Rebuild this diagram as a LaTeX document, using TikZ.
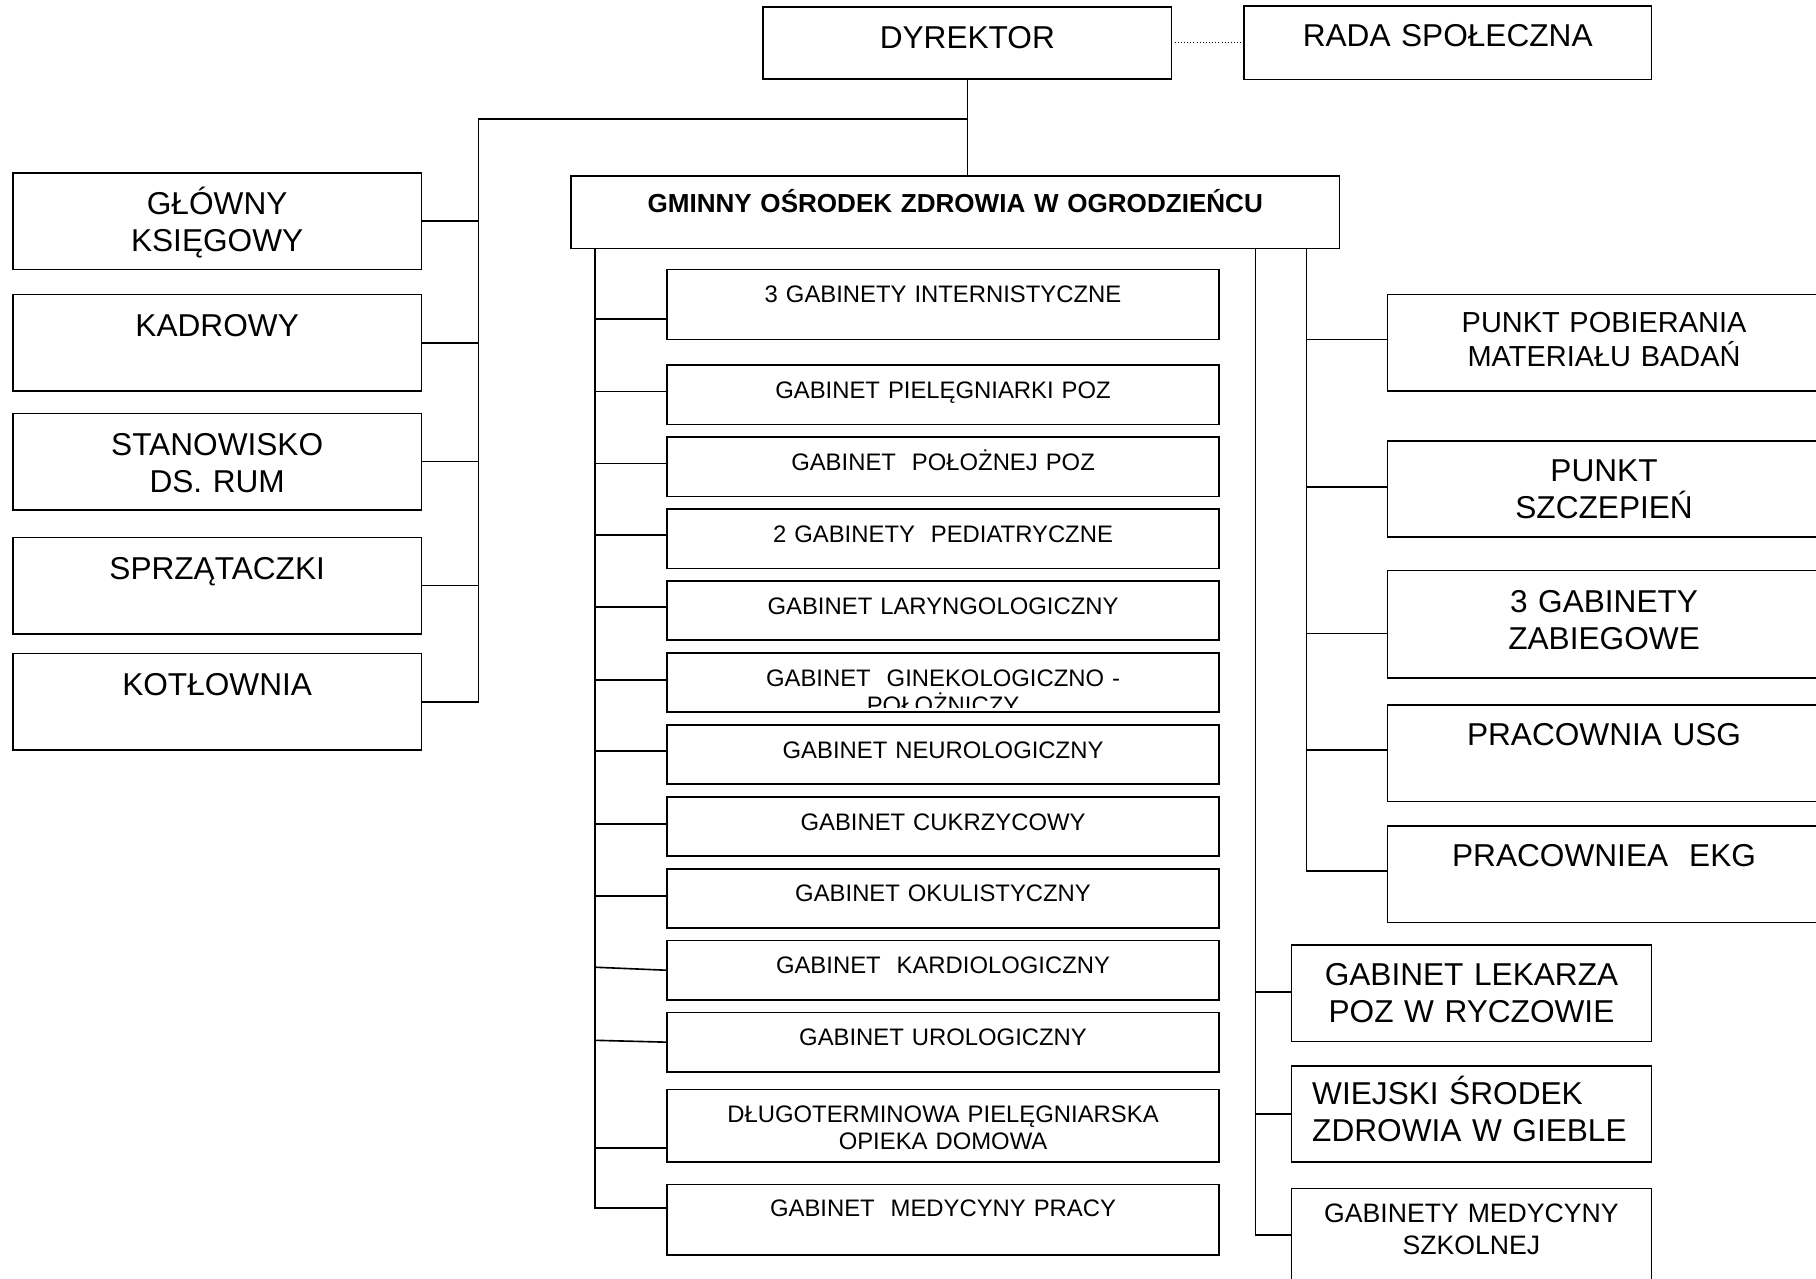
\documentclass[tikz,border=0pt]{standalone}
\usepackage{fontspec}
\setmainfont{Liberation Sans}
\usetikzlibrary{positioning}

\begin{document}
\begin{tikzpicture}
  [
    x=1pt, y=-1pt,
    line width=1.4pt,
    unit node/.style={draw, inner sep=0pt, outer sep=0pt, anchor=north west, align=center, font=\fontsize{27.3}{32}\selectfont},
    staff node/.style={unit node, text width=353pt, text height=36pt, text depth=47.2pt},
    cabinet node/.style={unit node, text width=476.5pt, text height=28.7pt, text depth=22.4pt, font=\fontsize{20.6}{23.5}\selectfont},
    point node/.style={unit node, text width=374pt, text height=35pt, text depth=48.2pt},
    branch node/.style={unit node, text width=311pt, text height=35pt, text depth=48.6pt}
    ]

  \path[use as bounding box, fill=white] (0,0) rectangle (1568,1104.3);

  \node[unit node, text width=352.5pt, text height=35.8pt, text depth=26.2pt] (dyrektor) at (659,6) {DYREKTOR};
  \node[unit node, text width=352pt, text height=34.8pt, text depth=28.6pt, right=62.5pt of dyrektor] (rada) {RADA SPOŁECZNA};
  \node[unit node, text width=663.5pt, text height=31.4pt, text depth=31pt, font=\fontsize{22.5}{26}\selectfont\bfseries] (gminny) at (493,152.2) {GMINNY OŚRODEK ZDROWIA W OGRODZIEŃCU};

  \node[staff node] (glowny) at (11,149.4) {GŁÓWNY\\KSIĘGOWY};
  \node[staff node, below=21.8pt of glowny] (kadrowy) {KADROWY};
  \node[staff node, below=19.4pt of kadrowy] (stanowisko) {STANOWISKO\\DS. RUM};
  \node[staff node, below=23.8pt of stanowisko] (sprzatacz) {SPRZĄTACZKI};
  \node[staff node, below=17.2pt of sprzatacz] (kotlownia) {KOTŁOWNIA};

  \node[cabinet node, text depth=31.9pt] (internist) at (576,232.6) {3 GABINETY INTERNISTYCZNE};
  \node[cabinet node, below=22.2pt of internist] (pielegn) {GABINET PIELĘGNIARKI POZ};
  \node[cabinet node, below=11pt of pielegn] (polozna) {GABINET\ \ POŁOŻNEJ POZ};
  \node[cabinet node, below=11pt of polozna] (pediatr) {2 GABINETY\ \ PEDIATRYCZNE};
  \node[cabinet node, below=11pt of pediatr] (laryng) {GABINET LARYNGOLOGICZNY};
  \node[cabinet node, below=11pt of laryng,
    path picture={
      \clip ([yshift=3.7pt]path picture bounding box.south west) rectangle (path picture bounding box.north east);
      \node[draw=none, inner sep=0pt, text width=476.5pt, align=center, anchor=base, font=\fontsize{20.6}{23.5}\selectfont] (ginektext) at ([yshift=-28.7pt]path picture bounding box.north) {GABINET\ \ GINEKOLOGICZNO -\\POŁOŻNICZY};
    }] (ginek) {};
  \node[cabinet node, below=11pt of ginek] (neuro) {GABINET NEUROLOGICZNY};
  \node[cabinet node, below=11pt of neuro] (cukrz) {GABINET CUKRZYCOWY};
  \node[cabinet node, below=11pt of cukrz] (okul) {GABINET OKULISTYCZNY};
  \node[cabinet node, below=11pt of okul] (kardio) {GABINET\ \ KARDIOLOGICZNY};
  \node[cabinet node, below=11pt of kardio] (uro) {GABINET UROLOGICZNY};
  \node[cabinet node, text depth=34pt, below=15.2pt of uro] (dlugo) {DŁUGOTERMINOWA PIELĘGNIARSKA\\OPIEKA DOMOWA};
  \node[cabinet node, text height=27.6pt, text depth=33.4pt, below=19.4pt of dlugo] (medpr) {GABINET\ \ MEDYCYNY PRACY};

  \node[point node, text height=33pt, text depth=50.2pt, font=\fontsize{25}{29.4}\selectfont] (pobier) at (1198,254.4) {PUNKT POBIERANIA\\MATERIAŁU BADAŃ};
  \node[point node, below=43pt of pobier] (szczep) {PUNKT\\SZCZEPIEŃ};
  \node[point node, text height=36pt, text depth=56.7pt, below=28.7pt of szczep] (zabieg) {3 GABINETY\\ZABIEGOWE};
  \node[point node, text depth=48.5pt, below=23.3pt of zabieg] (usg) {PRACOWNIA USG};
  \node[point node, below=21.2pt of usg] (ekg) {PRACOWNIEA\ \ EKG};

  \node[branch node] (lekarz) at (1115,815.8) {GABINET LEKARZA\\POZ W RYCZOWIE};
  \node[branch node, align=left, text height=33.6pt, text depth=49.5pt, below=20.8pt of lekarz] (wiejski) {\hspace*{18pt}WIEJSKI ŚRODEK\\\hspace*{18pt}ZDROWIA W GIEBLE};
  \node[branch node, text height=29pt, text depth=61pt, font=\fontsize{23}{28}\selectfont, below=22.9pt of wiejski] (szkolna) {GABINETY MEDYCYNY\\SZKOLNEJ};

  \draw[dotted, line width=0.7pt] (dyrektor.east) -- (rada.west);
  \draw (dyrektor.south) -- (dyrektor.south |- gminny.north);

  \coordinate (busleft) at (413,102.5);
  \draw (dyrektor.south |- busleft) -- (busleft) -- (busleft |- kotlownia.east) -- (kotlownia.east);
  \draw (glowny.east) -- (busleft |- glowny.east);
  \draw (kadrowy.east) -- (busleft |- kadrowy.east);
  \draw (stanowisko.east) -- (busleft |- stanowisko.east);
  \draw (sprzatacz.east) -- (busleft |- sprzatacz.east);

  \coordinate (busmid) at ([xshift=21pt]gminny.south west);
  \draw (busmid) -- ([yshift=10.4pt]busmid |- medpr.west) -- ([yshift=10.4pt]medpr.west);
  \draw ([yshift=-12.7pt]internist.west) -- ([yshift=-12.7pt]busmid |- internist.west);
  \draw ([yshift=3pt]pielegn.west) -- ([yshift=3pt]busmid |- pielegn.west);
  \draw ([yshift=3pt]polozna.west) -- ([yshift=3pt]busmid |- polozna.west);
  \draw ([yshift=3pt]pediatr.west) -- ([yshift=3pt]busmid |- pediatr.west);
  \draw ([yshift=3pt]laryng.west) -- ([yshift=3pt]busmid |- laryng.west);
  \draw ([yshift=2.4pt]ginek.west) -- ([yshift=2.4pt]busmid |- ginek.west);
  \draw ([yshift=3pt]neuro.west) -- ([yshift=3pt]busmid |- neuro.west);
  \draw ([yshift=2pt]cukrz.west) -- ([yshift=2pt]busmid |- cukrz.west);
  \draw ([yshift=2pt]okul.west) -- ([yshift=2pt]busmid |- okul.west);
  \draw (kardio.west) -- ([yshift=2.6pt]busmid |- kardio.west);
  \draw (uro.west) -- ([yshift=1.6pt]busmid |- uro.west);
  \draw ([yshift=-19.4pt]dlugo.west) -- ([yshift=-19.4pt]busmid |- dlugo.west);

  \coordinate (busfar) at ([xshift=-28.5pt]gminny.south east);
  \draw (busfar) -- ([yshift=2.5pt]busfar |- ekg.west) -- ([yshift=2.5pt]ekg.west);
  \draw ([yshift=2.8pt]pobier.west) -- ([yshift=2.8pt]busfar |- pobier.west);
  \draw ([yshift=1.8pt]szczep.west) -- ([yshift=1.8pt]busfar |- szczep.west);
  \draw ([yshift=-8.2pt]zabieg.west) -- ([yshift=-8.2pt]busfar |- zabieg.west);
  \draw ([yshift=2.8pt]usg.west) -- ([yshift=2.8pt]busfar |- usg.west);

  \coordinate (busout) at ([xshift=-72.5pt]gminny.south east);
  \draw (busout) -- ([yshift=4.8pt]busout |- szkolna.west) -- ([yshift=4.8pt]szkolna.west);
  \draw ([yshift=1.2pt]lekarz.west) -- ([yshift=1.2pt]busout |- lekarz.west);
  \draw (wiejski.west) -- (busout |- wiejski.west);
\end{tikzpicture}
\end{document}
